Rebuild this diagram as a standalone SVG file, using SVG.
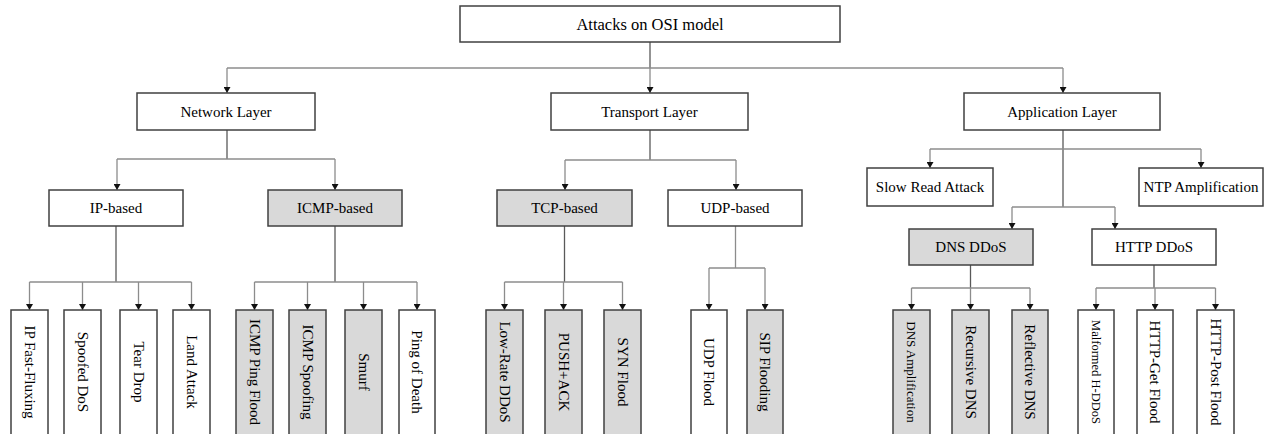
<svg xmlns="http://www.w3.org/2000/svg" width="1264" height="434" viewBox="0 0 1264 434">
<style>
  .box{stroke:#404040;stroke-width:1.5;fill:#ffffff}
  .g{fill:#d9d9d9}
  .t{font-family:"Liberation Serif","Times New Roman",serif;font-size:15px;fill:#000;text-anchor:middle;dominant-baseline:central}
  .c{fill:none;stroke:#8c8c8c;stroke-width:1.3}
  .s{fill:none;stroke:#595959;stroke-width:1.3}
</style>
<defs>
  <marker id="ah" markerUnits="userSpaceOnUse" markerWidth="7" markerHeight="7" refX="6" refY="3.5" orient="auto" viewBox="0 0 6 7">
    <path d="M0,0 L6,3.5 L0,7 Z" fill="#111"/>
  </marker>
</defs>
<rect width="1264" height="434" fill="#ffffff"/>

<g id="connectors">
  <path class="s" d="M650,42 V68"/>
  <path class="c" d="M227,68 H1063"/>
  <path class="c" d="M227,68 V93" marker-end="url(#ah)"/>
  <path class="c" d="M650,68 V93" marker-end="url(#ah)"/>
  <path class="c" d="M1063,68 V93" marker-end="url(#ah)"/>
  <path class="s" d="M227,130 V159"/>
  <path class="c" d="M117,159 H335"/>
  <path class="c" d="M117,159 V190" marker-end="url(#ah)"/>
  <path class="c" d="M335,159 V190" marker-end="url(#ah)"/>
  <path class="s" d="M650,130 V160"/>
  <path class="c" d="M565,160 H736"/>
  <path class="c" d="M565,160 V190" marker-end="url(#ah)"/>
  <path class="c" d="M736,160 V190" marker-end="url(#ah)"/>
  <path class="s" d="M1063,130 V207"/>
  <path class="c" d="M930,149 H1201"/>
  <path class="c" d="M930,149 V168" marker-end="url(#ah)"/>
  <path class="c" d="M1201,149 V168" marker-end="url(#ah)"/>
  <path class="c" d="M1012,207 H1115"/>
  <path class="c" d="M1012,207 V229" marker-end="url(#ah)"/>
  <path class="c" d="M1115,207 V229" marker-end="url(#ah)"/>
  <path class="s" d="M116,226 V282"/>
  <path class="c" d="M29.5,282 H191.5"/>
  <path class="c" d="M29.5,282 V310" marker-end="url(#ah)"/>
  <path class="c" d="M82.5,282 V310" marker-end="url(#ah)"/>
  <path class="c" d="M138.5,282 V310" marker-end="url(#ah)"/>
  <path class="c" d="M191.5,282 V310" marker-end="url(#ah)"/>
  <path class="s" d="M335,226 V282"/>
  <path class="c" d="M254.5,282 H417"/>
  <path class="c" d="M254.5,282 V310" marker-end="url(#ah)"/>
  <path class="c" d="M307.5,282 V310" marker-end="url(#ah)"/>
  <path class="c" d="M363.5,282 V310" marker-end="url(#ah)"/>
  <path class="c" d="M417,282 V310" marker-end="url(#ah)"/>
  <path class="s" d="M564.5,226 V282"/>
  <path class="c" d="M504.5,282 H622.5"/>
  <path class="c" d="M504.5,282 V310" marker-end="url(#ah)"/>
  <path class="c" d="M563.5,282 V310" marker-end="url(#ah)"/>
  <path class="c" d="M622.5,282 V310" marker-end="url(#ah)"/>
  <path class="c" d="M735.5,226 V268"/>
  <path class="c" d="M709,268 H765"/>
  <path class="c" d="M709,268 V310" marker-end="url(#ah)"/>
  <path class="c" d="M765,268 V310" marker-end="url(#ah)"/>
  <path class="s" d="M970.5,265 V288"/>
  <path class="c" d="M911.5,288 H1030"/>
  <path class="c" d="M911.5,288 V310" marker-end="url(#ah)"/>
  <path class="c" d="M970.5,288 V310" marker-end="url(#ah)"/>
  <path class="c" d="M1030,288 V310" marker-end="url(#ah)"/>
  <path class="s" d="M1154,265 V288"/>
  <path class="c" d="M1096,288 H1215.5"/>
  <path class="c" d="M1096,288 V310" marker-end="url(#ah)"/>
  <path class="c" d="M1155,288 V310" marker-end="url(#ah)"/>
  <path class="c" d="M1215.5,288 V310" marker-end="url(#ah)"/>
</g>

<g id="root"><rect class="box" x="460" y="6" width="380" height="36"/><text class="t" x="650" y="24.5" style="font-size:16.5px">Attacks on OSI model</text></g>

<g id="network-layer"><rect class="box" x="137" y="93" width="178" height="37"/><text class="t" x="226" y="111.5">Network Layer</text></g>
<g id="transport-layer"><rect class="box" x="551" y="93" width="197" height="37"/><text class="t" x="649.5" y="111.5">Transport Layer</text></g>
<g id="application-layer"><rect class="box" x="964" y="93" width="196" height="37"/><text class="t" x="1062" y="111.5">Application Layer</text></g>

<g id="ip-based"><rect class="box" x="49" y="190" width="134" height="36"/><text class="t" x="116" y="208">IP-based</text></g>
<g id="icmp-based"><rect class="box g" x="268" y="190" width="134" height="36"/><text class="t" x="335" y="208">ICMP-based</text></g>
<g id="tcp-based"><rect class="box g" x="497" y="190" width="135" height="36"/><text class="t" x="564.5" y="208">TCP-based</text></g>
<g id="udp-based"><rect class="box" x="668" y="190" width="134" height="36"/><text class="t" x="735" y="208">UDP-based</text></g>

<g id="slow-read"><rect class="box" x="867" y="168" width="126" height="38"/><text class="t" x="930" y="187">Slow Read Attack</text></g>
<g id="ntp-amp"><rect class="box" x="1139" y="168" width="124" height="38"/><text class="t" x="1201" y="187">NTP Amplification</text></g>
<g id="dns-ddos"><rect class="box g" x="909" y="229" width="124" height="36"/><text class="t" x="971" y="247">DNS DDoS</text></g>
<g id="http-ddos"><rect class="box" x="1092" y="229" width="124" height="36"/><text class="t" x="1154" y="247">HTTP DDoS</text></g>

<g id="ip-fast-fluxing"><rect class="box" x="11" y="310" width="37" height="130"/><text class="t" transform="translate(29.5,372) rotate(90)">IP Fast-Fluxing</text></g>
<g id="spoofed-dos"><rect class="box" x="64" y="310" width="37" height="130"/><text class="t" transform="translate(82.5,372) rotate(90)">Spoofed DoS</text></g>
<g id="tear-drop"><rect class="box" x="120" y="310" width="37" height="130"/><text class="t" transform="translate(138.5,372) rotate(90)">Tear Drop</text></g>
<g id="land-attack"><rect class="box" x="173" y="310" width="37" height="130"/><text class="t" transform="translate(191.5,372) rotate(90)">Land Attack</text></g>

<g id="icmp-ping-flood"><rect class="box g" x="236" y="310" width="37" height="130"/><text class="t" transform="translate(254.5,372) rotate(90)">ICMP Ping Flood</text></g>
<g id="icmp-spoofing"><rect class="box g" x="289" y="310" width="37" height="130"/><text class="t" transform="translate(307.5,372) rotate(90)">ICMP Spoofing</text></g>
<g id="smurf"><rect class="box g" x="345" y="310" width="37" height="130"/><text class="t" transform="translate(363.5,372) rotate(90)">Smurf</text></g>
<g id="ping-of-death"><rect class="box" x="399" y="310" width="36" height="130"/><text class="t" transform="translate(417,372) rotate(90)">Ping of Death</text></g>

<g id="low-rate-ddos"><rect class="box g" x="486" y="310" width="37" height="130"/><text class="t" transform="translate(504.5,372) rotate(90)">Low-Rate DDoS</text></g>
<g id="push-ack"><rect class="box g" x="545" y="310" width="37" height="130"/><text class="t" transform="translate(563.5,372) rotate(90)">PUSH+ACK</text></g>
<g id="syn-flood"><rect class="box g" x="604" y="310" width="37" height="130"/><text class="t" transform="translate(622.5,372) rotate(90)">SYN Flood</text></g>

<g id="udp-flood"><rect class="box" x="691" y="310" width="36" height="130"/><text class="t" transform="translate(709,372) rotate(90)">UDP Flood</text></g>
<g id="sip-flooding"><rect class="box g" x="747" y="310" width="36" height="130"/><text class="t" transform="translate(765,372) rotate(90)">SIP Flooding</text></g>

<g id="dns-amplification"><rect class="box g" x="893" y="310" width="37" height="130"/><text class="t" transform="translate(911.5,372) rotate(90)" style="font-size:13px">DNS Amplification</text></g>
<g id="recursive-dns"><rect class="box g" x="952" y="310" width="37" height="130"/><text class="t" transform="translate(970.5,372) rotate(90)">Recursive DNS</text></g>
<g id="reflective-dns"><rect class="box g" x="1012" y="310" width="36" height="130"/><text class="t" transform="translate(1030,372) rotate(90)">Reflective DNS</text></g>

<g id="malformed-h-ddos"><rect class="box" x="1078" y="310" width="36" height="130"/><text class="t" transform="translate(1096,372) rotate(90)" style="font-size:12.5px">Malformed H-DDoS</text></g>
<g id="http-get-flood"><rect class="box" x="1137" y="310" width="36" height="130"/><text class="t" transform="translate(1155,372) rotate(90)">HTTP-Get Flood</text></g>
<g id="http-post-flood"><rect class="box" x="1197" y="310" width="37" height="130"/><text class="t" transform="translate(1215.5,372) rotate(90)">HTTP-Post Flood</text></g>
</svg>
